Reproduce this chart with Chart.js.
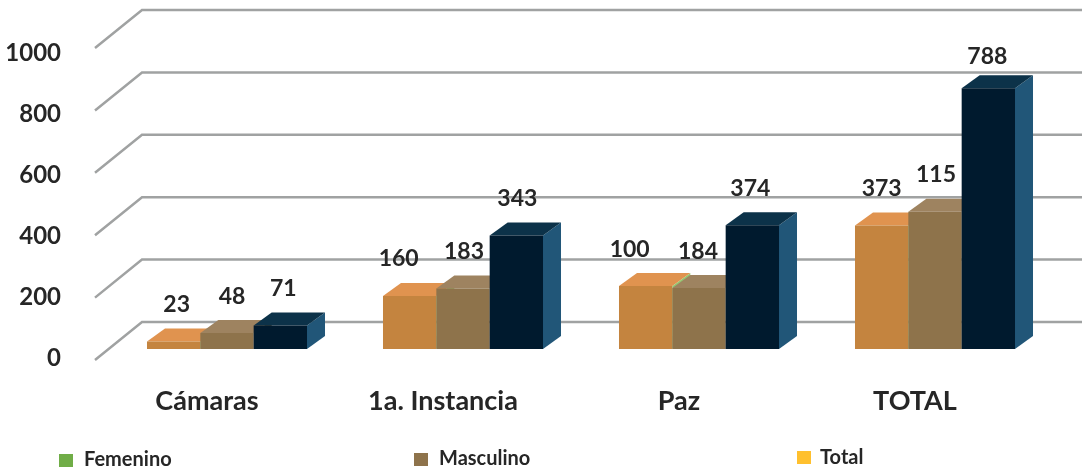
<!DOCTYPE html>
<html><head><meta charset="utf-8">
<style>html,body{margin:0;padding:0;background:#fff}canvas{display:block}</style>
<script src="https://cdn.jsdelivr.net/npm/chart.js@4"></script>
</head><body><canvas id="c" width="1082" height="470"></canvas>
<script>
const categories = ['Cámaras', '1a. Instancia', 'Paz', 'TOTAL'];
const seriesNames = ['Femenino', 'Masculino', 'Total'];
const femenino = [23, 160, 190, 373];
const masculino = [48, 183, 184, 415];
const total = [71, 343, 374, 788];
const femeninoLabels = ['23', '160', '100', '373'];
const masculinoLabels = ['48', '183', '184', '115'];
const totalLabels = ['71', '343', '374', '788'];
const yTicks = [0, 200, 400, 600, 800, 1000];

const FONT = 'Lato, sans-serif';
const TEXT = '#262626';
const faces = [
  {front:'#c4843f', top:'#e0934f', side:'#93c873', legend:'#70ad47'},
  {front:'#8e734b', top:'#9e8360', side:'#6f5a3a', legend:'#8e734b'},
  {front:'#001a2e', top:'#0c3249', side:'#215678', legend:'#ffc02e'}
];
const allLabels = [femeninoLabels, masculinoLabels, totalLabels];
const labelNudge = {'0,0':2, '1,0':4, '2,0':2, '0,1':-12, '0,2':-17, '1,2':-2, '2,2':-3, '0,3':-1, '2,3':-2};
const labelLift = {'2,3':5};
const legendSpots = [
  {box:[59,454], text:[84,460]},
  {box:[414,453], text:[439,459]},
  {box:[797,451], text:[820,458]}
];
const DX = 18, DY = 13;

function poly(ctx, pts, color){
  ctx.fillStyle = color;
  ctx.beginPath();
  pts.forEach((p,i)=> i ? ctx.lineTo(p[0],p[1]) : ctx.moveTo(p[0],p[1]));
  ctx.closePath();
  ctx.fill();
}

const scene = {
  id:'scene',
  beforeDatasetsDraw(chart){
    const {ctx} = chart, g = chart.scales.yGrid;
    ctx.save();
    ctx.strokeStyle = '#a0a2a2';
    ctx.lineWidth = 2.5;
    ctx.lineJoin = 'miter';
    yTicks.forEach(v=>{
      const y = g.getPixelForValue(v);
      ctx.beginPath();
      ctx.moveTo(95, y);
      ctx.lineTo(142, y-38);
      ctx.lineTo(1082, y-38);
      ctx.stroke();
    });
    ctx.restore();
  },
  beforeDatasetDraw(){ return false; },
  afterDatasetsDraw(chart){
    const {ctx} = chart;
    const base = chart.scales.yBars.getPixelForValue(0);
    chart.data.datasets.forEach((ds,i)=>{
      const meta = chart.getDatasetMeta(i), f = faces[i];
      meta.data.forEach(el=>{
        const l = el.x - el.width/2, r = el.x + el.width/2, t = el.y;
        poly(ctx, [[r,t],[r+DX,t-DY],[r+DX,base-DY],[r,base]], f.side);
        poly(ctx, [[l,t],[l+DX,t-DY],[r+DX,t-DY],[r,t]], f.top);
      });
      meta.controller.draw();
    });
    ctx.save();
    ctx.fillStyle = TEXT;
    ctx.textAlign = 'center';
    ctx.textBaseline = 'middle';
    ctx.font = 'bold 23px ' + FONT;
    chart.data.datasets.forEach((ds,i)=>{
      chart.getDatasetMeta(i).data.forEach((el,j)=>{
        const dx = 1 + (labelNudge[i+','+j] || 0);
        const dy = -37 + (labelLift[i+','+j] || 0);
        ctx.fillText(allLabels[i][j], el.x + dx, el.y + dy);
      });
    });
    ctx.textAlign = 'left';
    ctx.font = 'bold 20px ' + FONT;
    seriesNames.forEach((name,i)=>{
      const s = legendSpots[i];
      ctx.fillStyle = faces[i].legend;
      ctx.fillRect(s.box[0], s.box[1], 14, 13);
      ctx.fillStyle = TEXT;
      ctx.fillText(name, s.text[0], s.text[1]);
    });
    ctx.restore();
  }
};

new Chart(document.getElementById('c'), {
  type:'bar',
  data:{
    labels:categories,
    datasets:[femenino, masculino, total].map((values,i)=>({
      label:seriesNames[i],
      data:values,
      yAxisID:'yBars',
      backgroundColor:faces[i].front,
      borderWidth:0,
      categoryPercentage:0.678,
      barPercentage:1
    }))
  },
  options:{
    responsive:false,
    animation:false,
    layout:{padding:{left:0, right:29, top:53, bottom:0}},
    plugins:{legend:{display:false}, tooltip:{enabled:false}},
    scales:{
      x:{
        offset:true,
        grid:{display:false},
        border:{display:false},
        ticks:{autoSkip:false, maxRotation:0, minRotation:0, labelOffset:-20, padding:19, color:TEXT, font:{family:FONT, size:27, weight:'bold'}},
        afterFit(a){ a.height = 112; }
      },
      y:{
        position:'left',
        min:0, max:1000,
        afterBuildTicks(a){ a.ticks = yTicks.map(v=>({value:v})); },
        grid:{display:false, drawTicks:false},
        border:{display:false},
        ticks:{padding:48, color:TEXT, font:{family:FONT, size:24, weight:'bold'}, callback:v=>String(v)},
        afterFit(a){ a.width = 109; a.paddingTop = 0; a.paddingBottom = 0; }
      },
      yBars:{display:false, min:-27.2, max:894.3},
      yGrid:{display:false, min:6.4, max:984}
    }
  },
  plugins:[scene]
});
</script></body></html>
